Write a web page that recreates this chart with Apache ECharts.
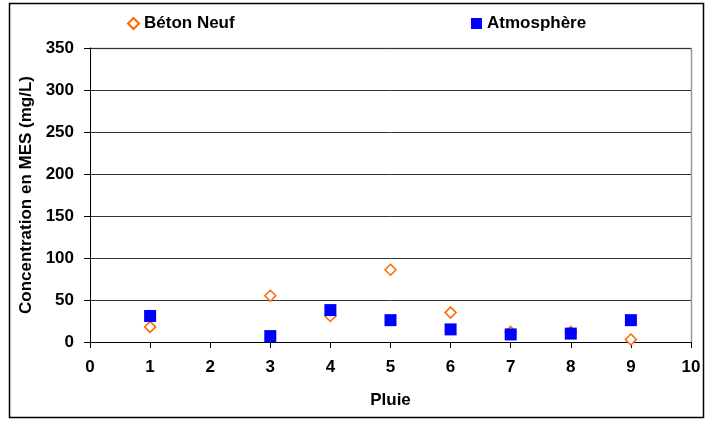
<!DOCTYPE html>
<html><head><meta charset="utf-8">
<script src="https://cdn.jsdelivr.net/npm/echarts@6/dist/echarts.min.js"></script>
<style>html,body{margin:0;padding:0;background:#fff}#c{width:712px;height:421px}</style>
</head><body><div id="c"></div>
<script>
const pluie = [1, 3, 4, 5, 6, 7, 8, 9];
const betonNeuf = [18, 55, 31, 86, 35, 12, 12, 3];
const atmosphere = [31, 7, 38, 26, 15, 9, 10, 26];
const seriesNames = ['Béton Neuf', 'Atmosphère'];
const xTitle = 'Pluie';
const yTitle = 'Concentration en MES (mg/L)';

const font = 'Arial, "Liberation Sans", sans-serif';
const fs = 17;
const chart = echarts.init(document.getElementById('c'), null, {renderer: 'canvas'});
const legendText = {fontFamily: font, fontWeight: 'bold', fontSize: fs, color: '#000'};
chart.setOption({
  animation: false,
  backgroundColor: '#fff',
  graphic: [{
    type: 'rect', shape: {x: 9.5, y: 3.5, width: 694, height: 414},
    style: {fill: 'none', stroke: '#000', lineWidth: 1.5}, silent: true
  }, {
    type: 'polyline', shape: {points: [[90, 48.5], [691.5, 48.5], [691.5, 342]]},
    style: {fill: 'none', stroke: '#999', lineWidth: 1.5}, silent: true, z: 0
  }],
  legend: [{
    top: 15, left: 127, itemWidth: 11, itemHeight: 11, itemGap: 4,
    textStyle: legendText, padding: 0,
    data: [{name: seriesNames[0], icon: 'diamond'}]
  }, {
    top: 15, left: 471, itemWidth: 11, itemHeight: 11, itemGap: 4,
    textStyle: legendText, padding: 0,
    data: [{name: seriesNames[1], icon: 'rect'}]
  }],
  grid: {left: 90, top: 48, right: 21, bottom: 79, containLabel: false},
  xAxis: {
    type: 'value', min: 0, max: 10, interval: 1,
    name: xTitle, nameLocation: 'middle', nameGap: 50,
    nameTextStyle: {fontFamily: font, fontWeight: 'bold', fontSize: fs, color: '#000'},
    axisLine: {onZero: false, lineStyle: {color: '#000', width: 1}},
    axisTick: {show: true, inside: false, length: 6, lineStyle: {color: '#000'}},
    axisLabel: {fontFamily: font, fontWeight: 'bold', fontSize: fs, color: '#000', margin: 17},
    splitLine: {show: false}
  },
  yAxis: {
    type: 'value', min: 0, max: 350, interval: 50,
    name: yTitle, nameLocation: 'middle', nameGap: 53, nameRotate: 90,
    nameTextStyle: {fontFamily: font, fontWeight: 'bold', fontSize: fs, color: '#000'},
    axisLine: {show: true, lineStyle: {color: '#000', width: 1}},
    axisTick: {show: true, inside: false, length: 6, lineStyle: {color: '#000'}},
    axisLabel: {fontFamily: font, fontWeight: 'bold', fontSize: fs, color: '#000', margin: 16},
    splitLine: {show: true, lineStyle: {color: '#333', width: 1}}
  },
  series: [{
    name: seriesNames[0], type: 'scatter', symbol: 'diamond', symbolSize: 11, z: 2,
    itemStyle: {color: '#fff', borderColor: '#FF6600', borderWidth: 1.5, opacity: 1},
    data: pluie.map((p, i) => [p, betonNeuf[i]])
  }, {
    name: seriesNames[1], type: 'scatter', symbol: 'rect', symbolSize: 12, z: 3,
    itemStyle: {color: '#0000FF', opacity: 1},
    data: pluie.map((p, i) => [p, atmosphere[i]])
  }]
});
</script></body></html>
